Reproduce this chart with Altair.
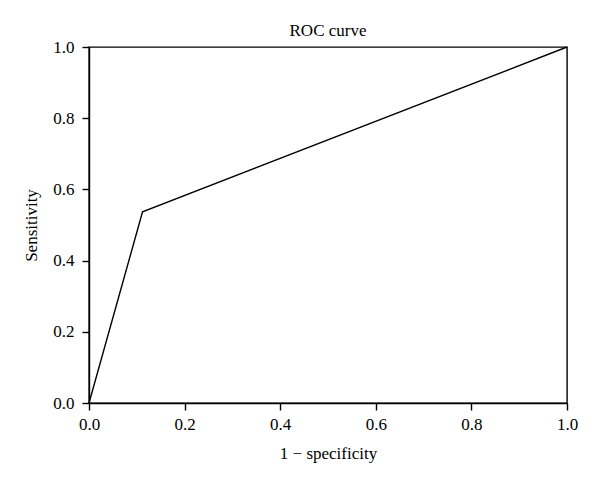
import altair as alt
import pandas as pd

fpr = [0.0, 0.112, 1.0]
tpr = [0.0, 0.537, 1.0]
ticks = [0.0, 0.2, 0.4, 0.6, 0.8, 1.0]

df = pd.DataFrame({"fpr": fpr, "tpr": tpr, "order": list(range(len(fpr)))})

FONT = "Liberation Serif"

chart = alt.Chart(df).mark_line(color="black", strokeWidth=1.4).encode(
    x=alt.X("fpr:Q", scale=alt.Scale(domain=[0, 1], nice=False),
            axis=alt.Axis(values=ticks, format=".1f", title="1 − specificity")),
    y=alt.Y("tpr:Q", scale=alt.Scale(domain=[0, 1], nice=False),
            axis=alt.Axis(values=ticks, format=".1f", title="Sensitivity")),
    order="order:O",
).properties(
    width=478,
    height=356,
    title=alt.TitleParams("ROC curve", font=FONT, fontSize=17, fontWeight="normal",
                          color="black", offset=-2),
    autosize=alt.AutoSizeParams(type="none"),
    padding={"left": 81, "top": 39, "right": 25, "bottom": 76},
).configure_view(
    stroke="black", strokeWidth=1.4
).configure_axis(
    grid=False,
    domainColor="black", domainWidth=1.4,
    tickColor="black", tickWidth=1.4, tickSize=7,
    labelFont=FONT, labelFontSize=17, labelColor="black",
    labelFlush=False, labelOverlap=False,
    titleFont=FONT, titleFontSize=17, titleFontWeight="normal", titleColor="black",
).configure_axisX(labelPadding=6, titlePadding=13).configure_axisY(labelPadding=8, titlePadding=12)

chart.save("out.html", embed_options={"renderer": "svg", "actions": False})
